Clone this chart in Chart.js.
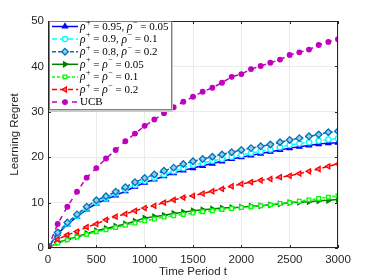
<!DOCTYPE html>
<html>
<head>
<meta charset="utf-8">
<script src="https://cdn.jsdelivr.net/npm/chart.js@4.4.1/dist/chart.umd.min.js"></script>
<style>
  html, body { margin: 0; padding: 0; background: #fff; }
</style>
</head>
<body>
<canvas id="regretChart" width="374" height="279"></canvas>
<script>
const timeSteps = [0, 100, 200, 300, 400, 500, 600, 700, 800, 900, 1000, 1100, 1200, 1300, 1400, 1500,
  1600, 1700, 1800, 1900, 2000, 2100, 2200, 2300, 2400, 2500, 2600, 2700, 2800, 2900, 3000];

const regret95 = [0, 3.1, 5.2, 6.9, 8.5, 9.8, 10.7, 11.6, 12.5, 13.5, 14.4, 15.1, 15.8, 16.5, 17.1, 17.6,
  18.1, 18.6, 19.1, 19.6, 20.0, 20.4, 20.8, 21.2, 21.6, 22.0, 22.3, 22.6, 22.9, 23.1, 23.2];
const regret90 = [0, 3.2, 5.4, 7.1, 8.8, 10.1, 11.0, 12.0, 12.9, 13.9, 14.8, 15.5, 16.2, 16.9, 17.6, 18.3,
  18.7, 19.2, 19.6, 20.1, 20.5, 20.9, 21.3, 21.7, 22.2, 22.7, 23.0, 23.3, 23.6, 23.9, 24.1];
const regret80 = [0, 3.4, 5.6, 7.4, 9.1, 10.5, 11.4, 12.4, 13.4, 14.5, 15.4, 16.2, 17.0, 17.7, 18.5, 19.1,
  19.6, 20.1, 20.6, 21.1, 21.6, 22.0, 22.4, 22.8, 23.3, 23.8, 24.2, 24.6, 25.0, 25.5, 25.7];
const regretSym05 = [0, 1.2, 1.9, 2.5, 3.2, 3.8, 4.3, 4.8, 5.3, 5.9, 6.6, 6.9, 7.2, 7.6, 7.9, 8.2,
  8.4, 8.6, 8.8, 8.9, 9.0, 9.2, 9.3, 9.5, 9.7, 10.0, 10.1, 10.2, 10.4, 10.5, 10.7];
const regretSym10 = [0, 1.1, 1.8, 2.4, 3.0, 3.6, 4.0, 4.5, 5.0, 5.5, 6.0, 6.4, 6.8, 7.1, 7.4, 7.7,
  8.0, 8.2, 8.5, 8.7, 8.9, 9.1, 9.3, 9.5, 9.8, 10.0, 10.3, 10.6, 10.9, 11.2, 11.5];
const regretSym20 = [0, 1.9, 2.9, 3.6, 4.6, 5.3, 6.2, 6.9, 7.5, 8.2, 8.8, 9.3, 10.0, 10.6, 11.1, 11.5,
  12.0, 12.5, 13.0, 13.6, 14.1, 14.5, 14.9, 15.2, 15.6, 15.9, 16.4, 16.9, 17.4, 18.0, 18.5];
const regretUCB = [0, 5.3, 9.1, 12.4, 15.5, 17.6, 19.7, 21.6, 23.5, 25.2, 26.9, 28.3, 29.7, 31.0, 32.2, 33.3,
  34.4, 35.3, 36.4, 37.7, 38.3, 39.4, 40.1, 40.8, 41.5, 42.5, 43.1, 43.7, 44.7, 45.4, 46.0];

// legend labels: [rho+, rho-] pairs, a single value when both are equal, or plain text
const legendLabels = [['0.95', '0.05'], ['0.9', '0.1'], ['0.8', '0.2'], ['0.05'], ['0.1'], ['0.2'], 'UCB'];

const axisColor = '#262626';
const sansFont = "'Liberation Sans', Arial, sans-serif";
const serifFont = "'Liberation Serif', 'DejaVu Serif', serif";

function series(values, color, style, extra) {
  return Object.assign({
    data: timeSteps.map((t, i) => ({ x: t, y: values[i] })),
    borderColor: color,
    borderWidth: 1.5,
    pointStyle: style,
    pointRadius: 2.9,
    pointBorderColor: color,
    pointBackgroundColor: color,
    pointBorderWidth: 1.3,
    tension: 0
  }, extra);
}

const datasets = [
  series(regret95, '#0000ff', 'triangle', {}),
  series(regret90, '#00ffff', 'circle', { borderDash: [5, 3], pointBackgroundColor: '#ffffff', pointRadius: 2.6 }),
  series(regret80, '#0072bd', 'rectRot', { borderDash: [4, 2], pointBackgroundColor: '#9ccbe8', pointRadius: 3.3 }),
  series(regretSym05, '#008000', 'triangle', { pointRotation: 90 }),
  series(regretSym10, '#00ff00', 'rect', { borderDash: [3, 2], pointBackgroundColor: '#ffffff', pointRadius: 2.6 }),
  series(regretSym20, '#ff0000', 'triangle', { borderDash: [5, 3], pointRotation: -90, pointBackgroundColor: '#ff8080' }),
  series(regretUCB, '#bf00bf', 'circle', { borderDash: [5, 5], pointRadius: 2.3 })
];
datasets.forEach((d, i) => { d.order = datasets.length - i; });

function drawRho(ctx, x, y, sign) {
  ctx.font = 'italic 11.5px ' + serifFont;
  ctx.fillText('\u03c1', x, y);
  x += ctx.measureText('\u03c1').width + 0.5;
  ctx.font = '8px ' + serifFont;
  ctx.fillText(sign, x, y - 4.5);
  return x + ctx.measureText(sign).width;
}

function drawPlain(ctx, x, y, text) {
  ctx.font = '11px ' + serifFont;
  ctx.fillText(text, x, y);
  return x + ctx.measureText(text).width;
}

const boxPlugin = {
  id: 'matlabBox',
  afterDraw(chart) {
    const ctx = chart.ctx;
    const a = chart.chartArea;
    const xs = chart.scales.x, ys = chart.scales.y;
    ctx.save();
    // frame and inward ticks
    ctx.strokeStyle = axisColor;
    ctx.lineWidth = 1;
    ctx.strokeRect(a.left + 0.5, a.top + 0.5, a.right - a.left - 1, a.bottom - a.top - 1);
    ctx.beginPath();
    xs.ticks.forEach(t => {
      const px = Math.round(xs.getPixelForValue(t.value)) + 0.5;
      ctx.moveTo(px, a.bottom); ctx.lineTo(px, a.bottom - 3);
      ctx.moveTo(px, a.top); ctx.lineTo(px, a.top + 3);
    });
    ys.ticks.forEach(t => {
      const py = Math.round(ys.getPixelForValue(t.value)) + 0.5;
      ctx.moveTo(a.left, py); ctx.lineTo(a.left + 3, py);
      ctx.moveTo(a.right, py); ctx.lineTo(a.right - 3, py);
    });
    ctx.stroke();

    // legend box
    const lx = 49, ly = 21, lw = 123, lh = 89;
    ctx.fillStyle = '#c8c8c8';
    ctx.fillRect(lx, ly + 2, lw + 1, lh);
    ctx.fillStyle = '#ffffff';
    ctx.fillRect(lx, ly, lw, lh);
    ctx.strokeStyle = '#7f7f7f';
    ctx.strokeRect(lx + 0.5, ly + 0.5, lw - 1, lh - 1);

    chart.data.datasets.forEach((ds, i) => {
      const y = 26.5 + i * 12.6;
      ctx.strokeStyle = ds.borderColor;
      ctx.lineWidth = 1.5;
      ctx.setLineDash(ds.borderDash || []);
      ctx.beginPath();
      ctx.moveTo(52, y); ctx.lineTo(78, y);
      ctx.stroke();
      ctx.setLineDash([]);
      ctx.fillStyle = ds.pointBackgroundColor;
      ctx.strokeStyle = ds.pointBorderColor;
      ctx.lineWidth = ds.pointBorderWidth;
      Chart.helpers.drawPoint(ctx, {
        pointStyle: ds.pointStyle, radius: ds.pointRadius,
        rotation: ds.pointRotation || 0, borderWidth: ds.pointBorderWidth
      }, 65, y);

      ctx.fillStyle = '#000000';
      ctx.textBaseline = 'middle';
      ctx.textAlign = 'left';
      const lab = legendLabels[i];
      let x = 80;
      const ty = y + 0.5;
      if (typeof lab === 'string') {
        drawPlain(ctx, x, ty, lab);
      } else if (lab.length === 2) {
        x = drawRho(ctx, x, ty, '+');
        x = drawPlain(ctx, x, ty, ' = ' + lab[0] + ', ');
        x = drawRho(ctx, x, ty, '\u2212');
        drawPlain(ctx, x, ty, ' = ' + lab[1]);
      } else {
        x = drawRho(ctx, x, ty, '+');
        x = drawPlain(ctx, x, ty, ' = ');
        x = drawRho(ctx, x, ty, '\u2212');
        drawPlain(ctx, x, ty, ' = ' + lab[0]);
      }
    });
    ctx.restore();
  }
};

new Chart(document.getElementById('regretChart'), {
  type: 'line',
  data: { datasets: datasets },
  options: {
    responsive: false,
    animation: false,
    layout: { padding: { left: 0, right: 36, top: 21, bottom: 0 } },
    plugins: { legend: { display: false }, tooltip: { enabled: false } },
    scales: {
      x: {
        type: 'linear', min: 0, max: 3000,
        ticks: {
          stepSize: 500, color: axisColor, font: { family: sansFont, size: 11.5 }, padding: 5, maxRotation: 0,
          callback: v => String(v)
        },
        grid: { color: '#ebebeb', drawTicks: false },
        border: { display: false },
        title: { display: true, text: 'Time Period t', color: axisColor, font: { family: sansFont, size: 11.5 }, padding: 0 },
        afterFit(s) { s.height = 31; }
      },
      y: {
        min: 0, max: 50,
        ticks: { stepSize: 10, color: axisColor, font: { family: sansFont, size: 11.5 }, padding: 4 },
        grid: { color: '#ebebeb', drawTicks: false },
        border: { display: false },
        title: { display: true, text: 'Learning Regret', color: axisColor, font: { family: sansFont, size: 11.5 }, padding: { top: 8, bottom: 0 } },
        afterFit(s) { s.width = 48; }
      }
    }
  },
  plugins: [boxPlugin]
});
</script>
</body>
</html>
